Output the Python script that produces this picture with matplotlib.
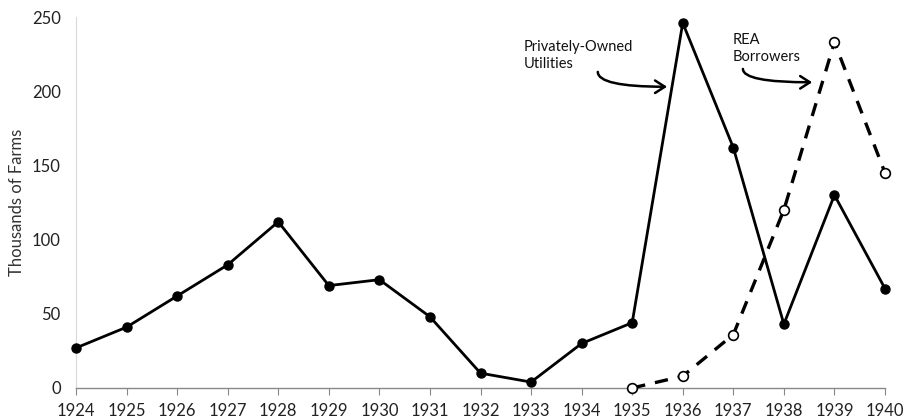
import numpy as np
import matplotlib.pyplot as plt

plt.rcParams['font.family'] = ['Lato', 'DejaVu Sans']

YEARS = list(range(1924, 1941))
PRIVATE = [27, 41, 62, 83, 112, 69, 73, 48, 10, 4, 30, 44, 246, 162, 43, 130, 67]

REA_YEARS = [1935, 1936, 1937, 1938, 1939, 1940]
REA = [0, 8, 36, 120, 233, 145]

fig = plt.figure(figsize=(9.06, 4.2), dpi=100)
ax = fig.add_axes([76 / 906, 1 - 388 / 420, (885 - 76) / 906, (388 - 17) / 420])

ax.plot(YEARS, PRIVATE, color='black', lw=2.0, marker='o', ms=6.5,
        clip_on=False, zorder=3)
ax.plot(REA_YEARS, REA, color='black', lw=2.4, dashes=(4, 3), marker='o',
        ms=7, mfc='white', mec='black', mew=1.2, clip_on=False, zorder=4)

ax.set_xlim(1924, 1940)
ax.set_ylim(0, 250)
ax.set_xticks(YEARS)
ax.set_yticks(np.arange(0, 251, 50))
ax.tick_params(axis='x', direction='out', length=5, color='#888888',
               labelsize=12, pad=6, labelcolor='#222222')
ax.tick_params(axis='y', length=0, labelsize=12, pad=11, labelcolor='#222222')

for side in ('top', 'right'):
    ax.spines[side].set_visible(False)
ax.spines['left'].set_color('#d9d9d9')
ax.spines['bottom'].set_color('#888888')
ax.spines['bottom'].set_linewidth(1.0)

ax.set_ylabel('Thousands of Farms', fontsize=12, color='#333333', labelpad=5)

arrow = dict(arrowstyle='->,head_length=0.7,head_width=0.45',
             lw=1.8, color='black',
             connectionstyle='angle3,angleA=90,angleB=0',
             shrinkA=0, shrinkB=0)

ax.text(1932.85, 224, 'Privately-Owned\nUtilities', fontsize=10.5,
        va='center', ha='left', linespacing=1.25, color='#111111')
ax.annotate('', xy=(1935.69, 203), xytext=(1934.32, 213), arrowprops=arrow)

ax.text(1936.99, 229, 'REA\nBorrowers', fontsize=10.5,
        va='center', ha='left', linespacing=1.25, color='#111111')
ax.annotate('', xy=(1938.56, 206), xytext=(1937.19, 215), arrowprops=arrow)

fig.savefig('out.png', dpi=100)
